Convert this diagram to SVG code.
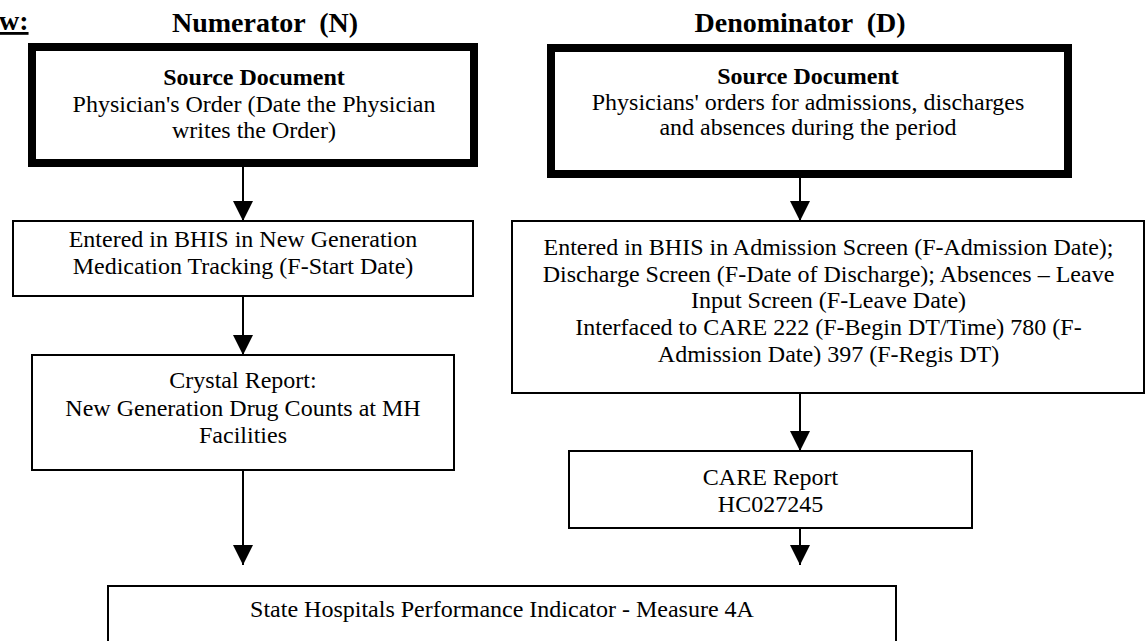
<svg xmlns="http://www.w3.org/2000/svg" width="1146" height="641" viewBox="0 0 1146 641">
<defs>
<marker id="ah" markerUnits="userSpaceOnUse" markerWidth="20" markerHeight="20" refX="20" refY="10" orient="auto">
<path d="M0,0 L20,10 L0,20 Z" fill="#000"/>
</marker>
<style>
text{font-family:"Liberation Serif","Times New Roman",serif;fill:#000;text-anchor:middle}
.t{font-size:28px;font-weight:bold;white-space:pre}
.h{font-size:24px;font-weight:bold}
.b{font-size:24px}
.thick{fill:#fff;stroke:#000;stroke-width:8}
.thin{fill:#fff;stroke:#000;stroke-width:2}
.c{stroke:#000;stroke-width:2;fill:none;marker-end:url(#ah)}
</style>
</defs>
<rect width="1146" height="641" fill="#fff"/>
<g id="headers">
<text x="-1" y="30" class="t" style="text-anchor:start;text-decoration:underline">w:</text>
<text x="265" y="32" class="t" xml:space="preserve">Numerator  (N)</text>
<text x="800" y="32" class="t" xml:space="preserve">Denominator  (D)</text>
</g>
<g id="connectors">
<line x1="243" y1="167" x2="243" y2="221" class="c"/>
<line x1="243" y1="296" x2="243" y2="355" class="c"/>
<line x1="243" y1="470" x2="243" y2="565" class="c"/>
<line x1="800" y1="178" x2="800" y2="221" class="c"/>
<line x1="800" y1="393" x2="800" y2="451" class="c"/>
<line x1="800" y1="528" x2="800" y2="565" class="c"/>
</g>
<g id="n-source">
<rect x="32" y="47" width="442" height="116" class="thick"/>
<text x="254" y="85" class="h">Source Document</text>
<text x="254" y="112" class="b">Physician's Order (Date the Physician</text>
<text x="254" y="138" class="b">writes the Order)</text>
</g>
<g id="n-entered">
<rect x="13" y="221" width="460" height="75" class="thin"/>
<text x="243" y="247" class="b">Entered in BHIS in New Generation</text>
<text x="243" y="274" class="b">Medication Tracking (F-Start Date)</text>
</g>
<g id="n-crystal">
<rect x="32" y="355" width="422" height="115" class="thin"/>
<text x="243" y="388" class="b">Crystal Report:</text>
<text x="243" y="416" class="b">New Generation Drug Counts at MH</text>
<text x="243" y="443" class="b">Facilities</text>
</g>
<g id="d-source">
<rect x="551" y="48" width="517" height="126" class="thick"/>
<text x="808" y="84" class="h">Source Document</text>
<text x="808" y="110" class="b">Physicians' orders for admissions, discharges</text>
<text x="808" y="135" class="b">and absences during the period</text>
</g>
<g id="d-entered">
<rect x="512" y="221" width="632" height="172" class="thin"/>
<text x="828.5" y="255" class="b">Entered in BHIS in Admission Screen (F-Admission Date);</text>
<text x="828.5" y="281.5" class="b">Discharge Screen (F-Date of Discharge); Absences – Leave</text>
<text x="828.5" y="308" class="b">Input Screen (F-Leave Date)</text>
<text x="828.5" y="335" class="b">Interfaced to CARE 222 (F-Begin DT/Time) 780 (F-</text>
<text x="828.5" y="361.5" class="b">Admission Date) 397 (F-Regis DT)</text>
</g>
<g id="d-care">
<rect x="569" y="451" width="403" height="77" class="thin"/>
<text x="770.5" y="485" class="b">CARE Report</text>
<text x="770.5" y="511.5" class="b">HC027245</text>
</g>
<g id="indicator">
<rect x="108" y="586" width="788" height="80" class="thin"/>
<text x="502" y="617" class="b">State Hospitals Performance Indicator - Measure 4A</text>
</g>
</svg>
